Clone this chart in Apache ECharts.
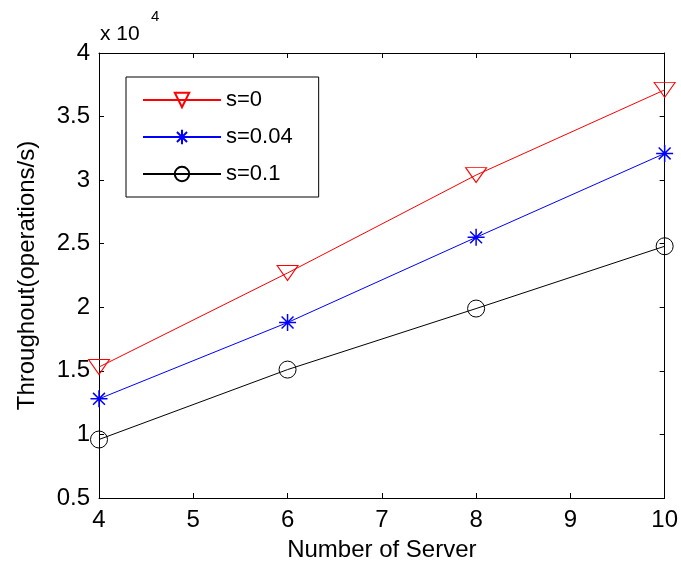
<!DOCTYPE html>
<html>
<head>
<meta charset="utf-8">
<script src="https://cdn.jsdelivr.net/npm/echarts@6/dist/echarts.min.js"></script>
<style>
  html, body { margin: 0; padding: 0; background: #fff; }
  #chart { width: 681px; height: 567px; }
</style>
</head>
<body>
<div id="chart"></div>
<script>
// servers on the x axis
const servers = [4, 6, 8, 10]
// throughput, operations/s
const s0 = [15300, 22700, 30400, 37100]
const s004 = [12800, 18800, 25500, 32100]
const s01 = [9600, 15100, 19900, 24800]
const seriesNames = ['s=0', 's=0.04', 's=0.1']
const yTicks = [5000, 40000, 5000] // min, max, step

const font = 'Liberation Sans, Arial, sans-serif'
const triDown = 'path://M0,0L20,0L10,14Z'
const star = 'path://M10,0L10,20M0,10L20,10M3,3L17,17M3,17L17,3'

const pairs = (vals) => servers.map((x, i) => [x, vals[i]])

const chart = echarts.init(document.getElementById('chart'))

const xBase = {
  type: 'value', min: 4, max: 10, interval: 1,
  axisLine: { show: true, lineStyle: { color: '#000', width: 1 } },
  axisTick: { show: true, inside: true, length: 5, lineStyle: { color: '#000' } },
  splitLine: { show: false }
}
const yBase = {
  type: 'value', min: yTicks[0], max: yTicks[1], interval: yTicks[2],
  axisLine: { show: true, lineStyle: { color: '#000', width: 1 } },
  axisTick: { show: true, inside: true, length: 5, lineStyle: { color: '#000' } },
  splitLine: { show: false }
}

chart.setOption({
  animation: false,
  backgroundColor: '#fff',
  textStyle: { fontFamily: font },
  grid: { left: 99, right: 14, top: 53, bottom: 68 },
  legend: {
    orient: 'vertical',
    left: 126, top: 77,
    data: seriesNames,
    itemWidth: 78, itemHeight: 18,
    itemGap: 15,
    padding: [12, 26, 12, 16],
    borderColor: '#000', borderWidth: 1,
    textStyle: { fontSize: 22, color: '#000', fontFamily: font }
  },
  graphic: [
    { type: 'text', left: 100, top: 24, style: { text: 'x 10', fontSize: 21, fontFamily: font, fill: '#000' } },
    { type: 'text', left: 151, top: 9, style: { text: '4', fontSize: 15, fontFamily: font, fill: '#000' } }
  ],
  xAxis: [
    Object.assign({}, xBase, {
      position: 'bottom',
      name: 'Number of Server', nameLocation: 'middle', nameGap: 40,
      nameTextStyle: { fontSize: 24, color: '#000', fontFamily: font },
      axisLabel: { fontSize: 24, color: '#000', margin: 10 }
    }),
    Object.assign({}, xBase, { position: 'top', axisLabel: { show: false } })
  ],
  yAxis: [
    Object.assign({}, yBase, {
      position: 'left',
      name: 'Throughout(operations/s)', nameLocation: 'middle', nameGap: 60,
      nameTextStyle: { fontSize: 24, color: '#000', fontFamily: font },
      axisLabel: { fontSize: 24, color: '#000', margin: 9, formatter: (v) => String(v / 10000) }
    }),
    Object.assign({}, yBase, { position: 'right', axisLabel: { show: false } })
  ],
  series: [
    {
      name: seriesNames[0], type: 'line', data: pairs(s0),
      symbol: triDown, symbolSize: [21, 15],
      lineStyle: { color: '#ff0000', width: 1 },
      itemStyle: { color: 'rgba(0,0,0,0)', borderColor: '#ff0000', borderWidth: 1 }
    },
    {
      name: seriesNames[1], type: 'line', data: pairs(s004),
      symbol: star, symbolSize: 17,
      lineStyle: { color: '#0000ff', width: 1 },
      itemStyle: { color: 'rgba(0,0,0,0)', borderColor: '#0000ff', borderWidth: 1.5 }
    },
    {
      name: seriesNames[2], type: 'line', data: pairs(s01),
      symbol: 'circle', symbolSize: 17,
      lineStyle: { color: '#000', width: 1 },
      itemStyle: { color: 'rgba(0,0,0,0)', borderColor: '#000', borderWidth: 1 }
    }
  ]
})
</script>
</body>
</html>
